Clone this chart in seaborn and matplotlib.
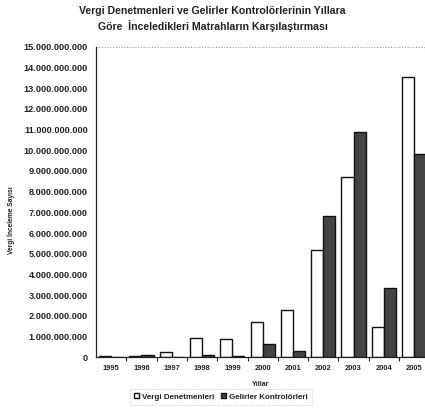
import matplotlib
matplotlib.use("Agg")
import matplotlib.pyplot as plt
import matplotlib.ticker as mticker
import seaborn as sns
import pandas as pd

years = ["1995", "1996", "1997", "1998", "1999", "2000", "2001", "2002", "2003", "2004", "2005"]
vergi_denetmenleri = [0.05e9, 0.08e9, 0.25e9, 0.92e9, 0.88e9, 1.72e9, 2.3e9, 5.2e9, 8.7e9, 1.45e9, 13.55e9]
gelirler_kontrolorleri = [0.03e9, 0.1e9, 0.0e9, 0.1e9, 0.07e9, 0.65e9, 0.3e9, 6.8e9, 10.9e9, 3.35e9, 9.8e9]
series_names = ["Vergi Denetmenleri", "Gelirler Kontrolörleri"]

rows = []
for y, a, b in zip(years, vergi_denetmenleri, gelirler_kontrolorleri):
    rows.append({"Yıl": y, "Seri": series_names[0], "Değer": a})
    rows.append({"Yıl": y, "Seri": series_names[1], "Değer": b})
df = pd.DataFrame(rows)

sns.set_theme(style="white")
plt.rcParams["font.family"] = ["Liberation Sans", "DejaVu Sans"]
plt.rcParams["font.weight"] = "bold"

fig = plt.figure(figsize=(4.25, 4.11), dpi=100)
ax = fig.add_axes([0.226, 0.131, 0.774, 0.755])

sns.barplot(data=df, x="Yıl", y="Değer", hue="Seri", order=years, hue_order=series_names,
            palette={series_names[0]: "#ffffff", series_names[1]: "#444444"},
            edgecolor="#111111", linewidth=1.0, width=0.8, ax=ax, legend=True)

ax.set_ylim(0, 15e9)
ax.set_xlim(-0.5, 10.36)
ax.yaxis.set_major_locator(mticker.MultipleLocator(1e9))
ax.yaxis.set_major_formatter(mticker.FuncFormatter(lambda v, p: f"{int(round(v)):,}".replace(",", ".")))
for s in ["top", "right"]:
    ax.spines[s].set_visible(False)
for s in ["left", "bottom"]:
    ax.spines[s].set_color("#222222")
    ax.spines[s].set_linewidth(0.9)
ax.axhline(15e9, color="#999999", lw=0.8, ls=(0, (1, 1.5)))

ax.tick_params(axis="y", which="major", direction="out", length=3, width=0.8, color="#222222",
               labelsize=6.6, pad=3)
ax.tick_params(axis="x", which="major", length=0, labelsize=5.4, pad=6)
ax.set_xticks(range(len(years)))
ax.xaxis.set_minor_locator(mticker.FixedLocator([i + 0.5 for i in range(len(years))]))
ax.tick_params(axis="x", which="minor", direction="out", length=3, width=0.8, color="#222222", bottom=True)
for lab in ax.get_xticklabels() + ax.get_yticklabels():
    lab.set_fontweight("bold")
    lab.set_color("#222222")

ax.set_xlabel("Yıllar", fontsize=5.0, fontweight="bold", labelpad=6, color="#222222")
ax.set_ylabel("Vergi İnceleme Sayısı", fontsize=4.8, fontweight="bold", color="#222222")
ax.yaxis.set_label_coords(-0.245, 0.44)

fig.text(0.5, 0.985, "Vergi Denetmenleri ve Gelirler Kontrolörlerinin Yıllara\nGöre  İnceledikleri Matrahların Karşılaştırması",
         ha="center", va="top", fontsize=7.6, fontweight="bold", linespacing=1.35, color="#222222")

leg = ax.legend(loc="upper center", bbox_to_anchor=(0.38, -0.09), ncol=2, fontsize=5.8,
                frameon=True, handlelength=0.6, handleheight=0.6, handletextpad=0.4,
                columnspacing=0.8, borderpad=0.5, fancybox=False)
leg.get_frame().set_edgecolor("#bbbbbb")
leg.get_frame().set_linestyle((0, (1, 1.5)))
leg.get_frame().set_linewidth(0.7)
for t in leg.get_texts():
    t.set_fontweight("bold")
    t.set_color("#222222")

fig.savefig("out.png", dpi=100)
